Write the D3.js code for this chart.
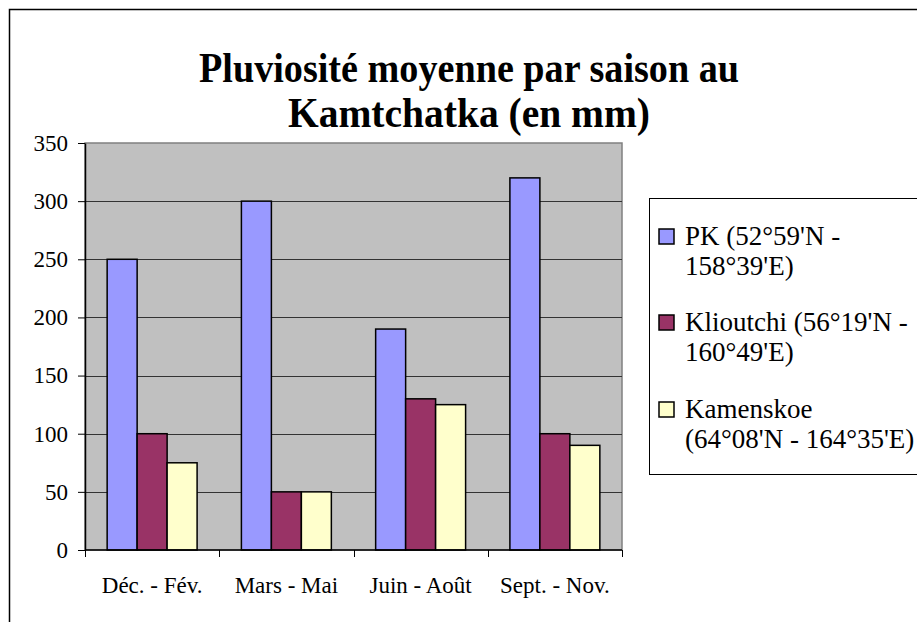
<!DOCTYPE html>
<html>
<head>
<meta charset="utf-8">
<script src="https://cdn.jsdelivr.net/npm/d3@7"></script>
<style>
  body { margin: 0; background: #fff; }
</style>
</head>
<body>
<svg width="917" height="622"></svg>
<script>
// data
var seasons = ["Déc. - Fév.", "Mars - Mai", "Juin - Août", "Sept. - Nov."];
var pk = [250, 300, 190, 320];
var klioutchi = [100, 50, 130, 100];
var kamenskoe = [75, 50, 125, 90];
var seriesNames = [
  ["PK (52°59'N -", "158°39'E)"],
  ["Klioutchi (56°19'N -", "160°49'E)"],
  ["Kamenskoe", "(64°08'N - 164°35'E)"]
];
var seriesColors = ["#9999FF", "#993366", "#FFFFCC"];
var yTicks = [0, 50, 100, 150, 200, 250, 300, 350];
var titleLines = ["Pluviosité moyenne par saison au", "Kamtchatka (en mm)"];

var series = [pk, klioutchi, kamenskoe];
var serif = "'Liberation Serif', 'Times New Roman', 'DejaVu Serif', serif";

var svg = d3.select("svg");

// outer chart border (runs off the right/bottom of the picture)
svg.append("rect")
    .attr("x", 9.5).attr("y", 9.5)
    .attr("width", 940).attr("height", 640)
    .attr("fill", "none").attr("stroke", "#000").attr("stroke-width", 1.5);

// title
svg.selectAll(".title")
    .data(titleLines)
    .enter().append("text")
    .attr("class", "title")
    .attr("x", 469)
    .attr("y", function(d, i) { return 82 + i * 45; })
    .attr("text-anchor", "middle")
    .style("font-family", serif)
    .style("font-size", "42px")
    .style("font-weight", "bold")
    .attr("textLength", function(d, i) { return i == 0 ? 540 : 362; })
    .attr("lengthAdjust", "spacingAndGlyphs")
    .text(function(d) { return d; });

// plot area
var plotL = 85, plotR = 622, plotT = 143, plotB = 550;

var x0 = d3.scaleBand()
    .domain(seasons)
    .range([plotL, plotR])
    .paddingInner(0.33)
    .paddingOuter(0.165);

var x1 = d3.scaleBand()
    .domain([0, 1, 2])
    .range([0, x0.bandwidth()]);

var y = d3.scaleLinear()
    .domain([0, 350])
    .range([plotB, plotT]);

svg.append("rect")
    .attr("x", plotL).attr("y", plotT)
    .attr("width", plotR - plotL).attr("height", plotB - plotT)
    .attr("fill", "#C0C0C0")
    .attr("stroke", "#808080").attr("stroke-width", 1.5);

// gridlines
svg.append("g")
  .selectAll("line")
  .data(yTicks.filter(function(d) { return d > 0 && d < 350; }))
  .enter().append("line")
    .attr("x1", plotL).attr("x2", plotR)
    .attr("y1", function(d) { return Math.round(y(d)) + 0.5; })
    .attr("y2", function(d) { return Math.round(y(d)) + 0.5; })
    .attr("stroke", "#333").attr("stroke-width", 1);

// bars
var groups = svg.append("g")
  .selectAll("g")
  .data(seasons)
  .enter().append("g")
    .attr("transform", function(d) { return "translate(" + x0(d) + ",0)"; });

groups.selectAll("rect")
  .data(function(d, i) { return series.map(function(s, k) { return { k: k, v: s[i] }; }); })
  .enter().append("rect")
    .attr("x", function(d) { return x1(d.k); })
    .attr("y", function(d) { return y(d.v); })
    .attr("width", x1.bandwidth())
    .attr("height", function(d) { return y(0) - y(d.v); })
    .attr("fill", function(d) { return seriesColors[d.k]; })
    .attr("stroke", "#000").attr("stroke-width", 1.5);

// y axis
var yAxis = svg.append("g")
    .attr("transform", "translate(" + plotL + ",0)")
    .call(d3.axisLeft(y).tickValues(yTicks).tickSize(7).tickPadding(10).tickSizeOuter(0));
yAxis.attr("font-family", null).attr("font-size", null);
yAxis.select(".domain").attr("stroke", "#000").attr("stroke-width", 1.5);
yAxis.selectAll(".tick line").attr("stroke", "#000");
yAxis.selectAll("text")
    .style("font-family", serif).style("font-size", "23px").attr("fill", "#000");

// x axis with ticks on category boundaries
var xAxis = svg.append("g")
    .attr("transform", "translate(0," + plotB + ")");
xAxis.append("line")
    .attr("x1", plotL).attr("x2", plotR)
    .attr("stroke", "#000").attr("stroke-width", 1.5);
var step = (plotR - plotL) / seasons.length;
xAxis.selectAll(".xt")
  .data(d3.range(seasons.length + 1))
  .enter().append("line")
    .attr("class", "xt")
    .attr("x1", function(d) { return Math.round(plotL + d * step) + 0.5; })
    .attr("x2", function(d) { return Math.round(plotL + d * step) + 0.5; })
    .attr("y1", 0).attr("y2", 7)
    .attr("stroke", "#000");
xAxis.selectAll(".xl")
  .data(seasons)
  .enter().append("text")
    .attr("class", "xl")
    .attr("x", function(d) { return x0(d) + x0.bandwidth() / 2; })
    .attr("y", 43)
    .attr("text-anchor", "middle")
    .style("font-family", serif)
    .style("font-size", "23px")
    .text(function(d) { return d; });

// legend
var legend = svg.append("g");
legend.append("rect")
    .attr("x", 649.5).attr("y", 198.5)
    .attr("width", 300).attr("height", 276)
    .attr("fill", "#fff").attr("stroke", "#000").attr("stroke-width", 1);

var items = legend.selectAll(".item")
  .data(seriesNames)
  .enter().append("g")
    .attr("class", "item")
    .attr("transform", function(d, i) { return "translate(0," + [0, 86, 173][i] + ")"; });

items.append("rect")
    .attr("x", 659).attr("y", 229)
    .attr("width", 15).attr("height", 15)
    .attr("fill", function(d, i) { return seriesColors[i]; })
    .attr("stroke", "#000").attr("stroke-width", 1.5);

items.selectAll("text")
  .data(function(d) { return d; })
  .enter().append("text")
    .attr("x", 685)
    .attr("y", function(d, j) { return 245 + j * 30; })
    .style("font-family", serif)
    .style("font-size", "27px")
    .text(function(d) { return d; });
</script>
</body>
</html>
